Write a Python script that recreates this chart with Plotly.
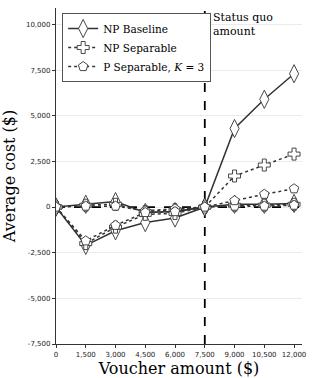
import plotly.graph_objects as go

x_vals = [0, 1500, 3000, 4500, 6000, 7500, 9000, 10500, 12000]

# Series group A (larger deviations)
np_baseline_a = [0, -2100, -1300, -850, -600, 0, 4300, 5900, 7300]
np_separable_a = [0, -2000, -1100, -400, -350, 0, 1700, 2300, 2900]
p_separable_a = [0, -1850, -1000, -300, -250, 0, 350, 700, 1000]

# Series group B (near zero)
np_baseline_b = [0, 150, 300, -300, -250, 0, 150, 150, 200]
np_separable_b = [0, 100, 150, -250, -150, 0, 100, 100, 150]
p_separable_b = [0, 50, 50, -200, -100, 0, 50, 50, 100]

series_names = ["NP Baseline", "NP Separable", "P Separable, <i>K</i> = 3"]
y_ticks = [-7500, -5000, -2500, 0, 2500, 5000, 7500, 10000]
y_tick_text = ["-7,500", "-5,000", "-2,500", "0", "2,500", "5,000", "7,500", "10,000"]
x_ticks = x_vals
x_tick_text = ["0", "1,500", "3,000", "4,500", "6,000", "7,500", "9,000", "10,500", "12,000"]

line_col = "#333333"
styles = [
    dict(symbol="diamond-tall", dash="solid", size=13),
    dict(symbol="cross", dash="dot", size=10),
    dict(symbol="pentagon", dash="dot", size=10),
]

fig = go.Figure()

# reference lines
fig.add_trace(go.Scatter(x=[0, 12400], y=[0, 0], mode="lines",
                         line=dict(color="black", width=1.8, dash="dash"),
                         showlegend=False, hoverinfo="skip"))
fig.add_trace(go.Scatter(x=[7500, 7500], y=[-7500, 10900], mode="lines",
                         line=dict(color="black", width=1.8, dash="dash"),
                         showlegend=False, hoverinfo="skip"))

groups = [
    (np_baseline_b, np_separable_b, p_separable_b),
    (np_baseline_a, np_separable_a, p_separable_a),
]
for gi, grp in enumerate(groups):
    for si, ys in enumerate(grp):
        st = styles[si]
        fig.add_trace(go.Scatter(
            x=x_vals, y=ys, mode="lines+markers",
            name=series_names[si],
            showlegend=(gi == 1),
            line=dict(color=line_col, width=1.5, dash=st["dash"]),
            marker=dict(symbol=st["symbol"], size=st["size"], color="white",
                        line=dict(color=line_col, width=0.9)),
        ))

fig.add_annotation(x=7500, y=10900, xref="x", yref="y", text="Status quo<br>amount",
                   showarrow=False, xanchor="left", yanchor="top", xshift=6, yshift=-1,
                   align="left", font=dict(family="DejaVu Serif", size=11, color="black"))

fig.update_layout(
    width=312, height=378,
    margin=dict(l=56, r=6, t=8, b=34),
    plot_bgcolor="white", paper_bgcolor="white",
    legend=dict(x=0.025, y=0.985, xanchor="left", yanchor="top",
                bgcolor="white", bordercolor="#555", borderwidth=1,
                font=dict(family="DejaVu Serif", size=10.5, color="black"),
                itemwidth=30, tracegroupgap=0),
    xaxis=dict(range=[0, 12400], tickvals=x_ticks, ticktext=x_tick_text,
               showgrid=False, zeroline=False, showline=True, linecolor="#333", linewidth=1.3,
               ticks="outside", ticklen=3, tickcolor="#333",
               tickfont=dict(family="DejaVu Sans", size=7, color="#222"),
               title=dict(text="Voucher amount ($)", standoff=2,
                          font=dict(family="DejaVu Serif", size=16, color="black"))),
    yaxis=dict(range=[-7500, 10900], tickvals=y_ticks, ticktext=y_tick_text,
               showgrid=True, gridcolor="#ebebeb", gridwidth=1, zeroline=False,
               showline=True, linecolor="#333", linewidth=1.3,
               ticks="outside", ticklen=3, tickcolor="#333",
               tickfont=dict(family="DejaVu Sans", size=7, color="#222"),
               title=dict(text="Average cost ($)", standoff=6,
                          font=dict(family="DejaVu Serif", size=16, color="black"))),
)

fig.write_html("out.html", config={"displayModeBar": False},
               post_script="document.body.style.margin='0';document.body.style.overflow='hidden';")
